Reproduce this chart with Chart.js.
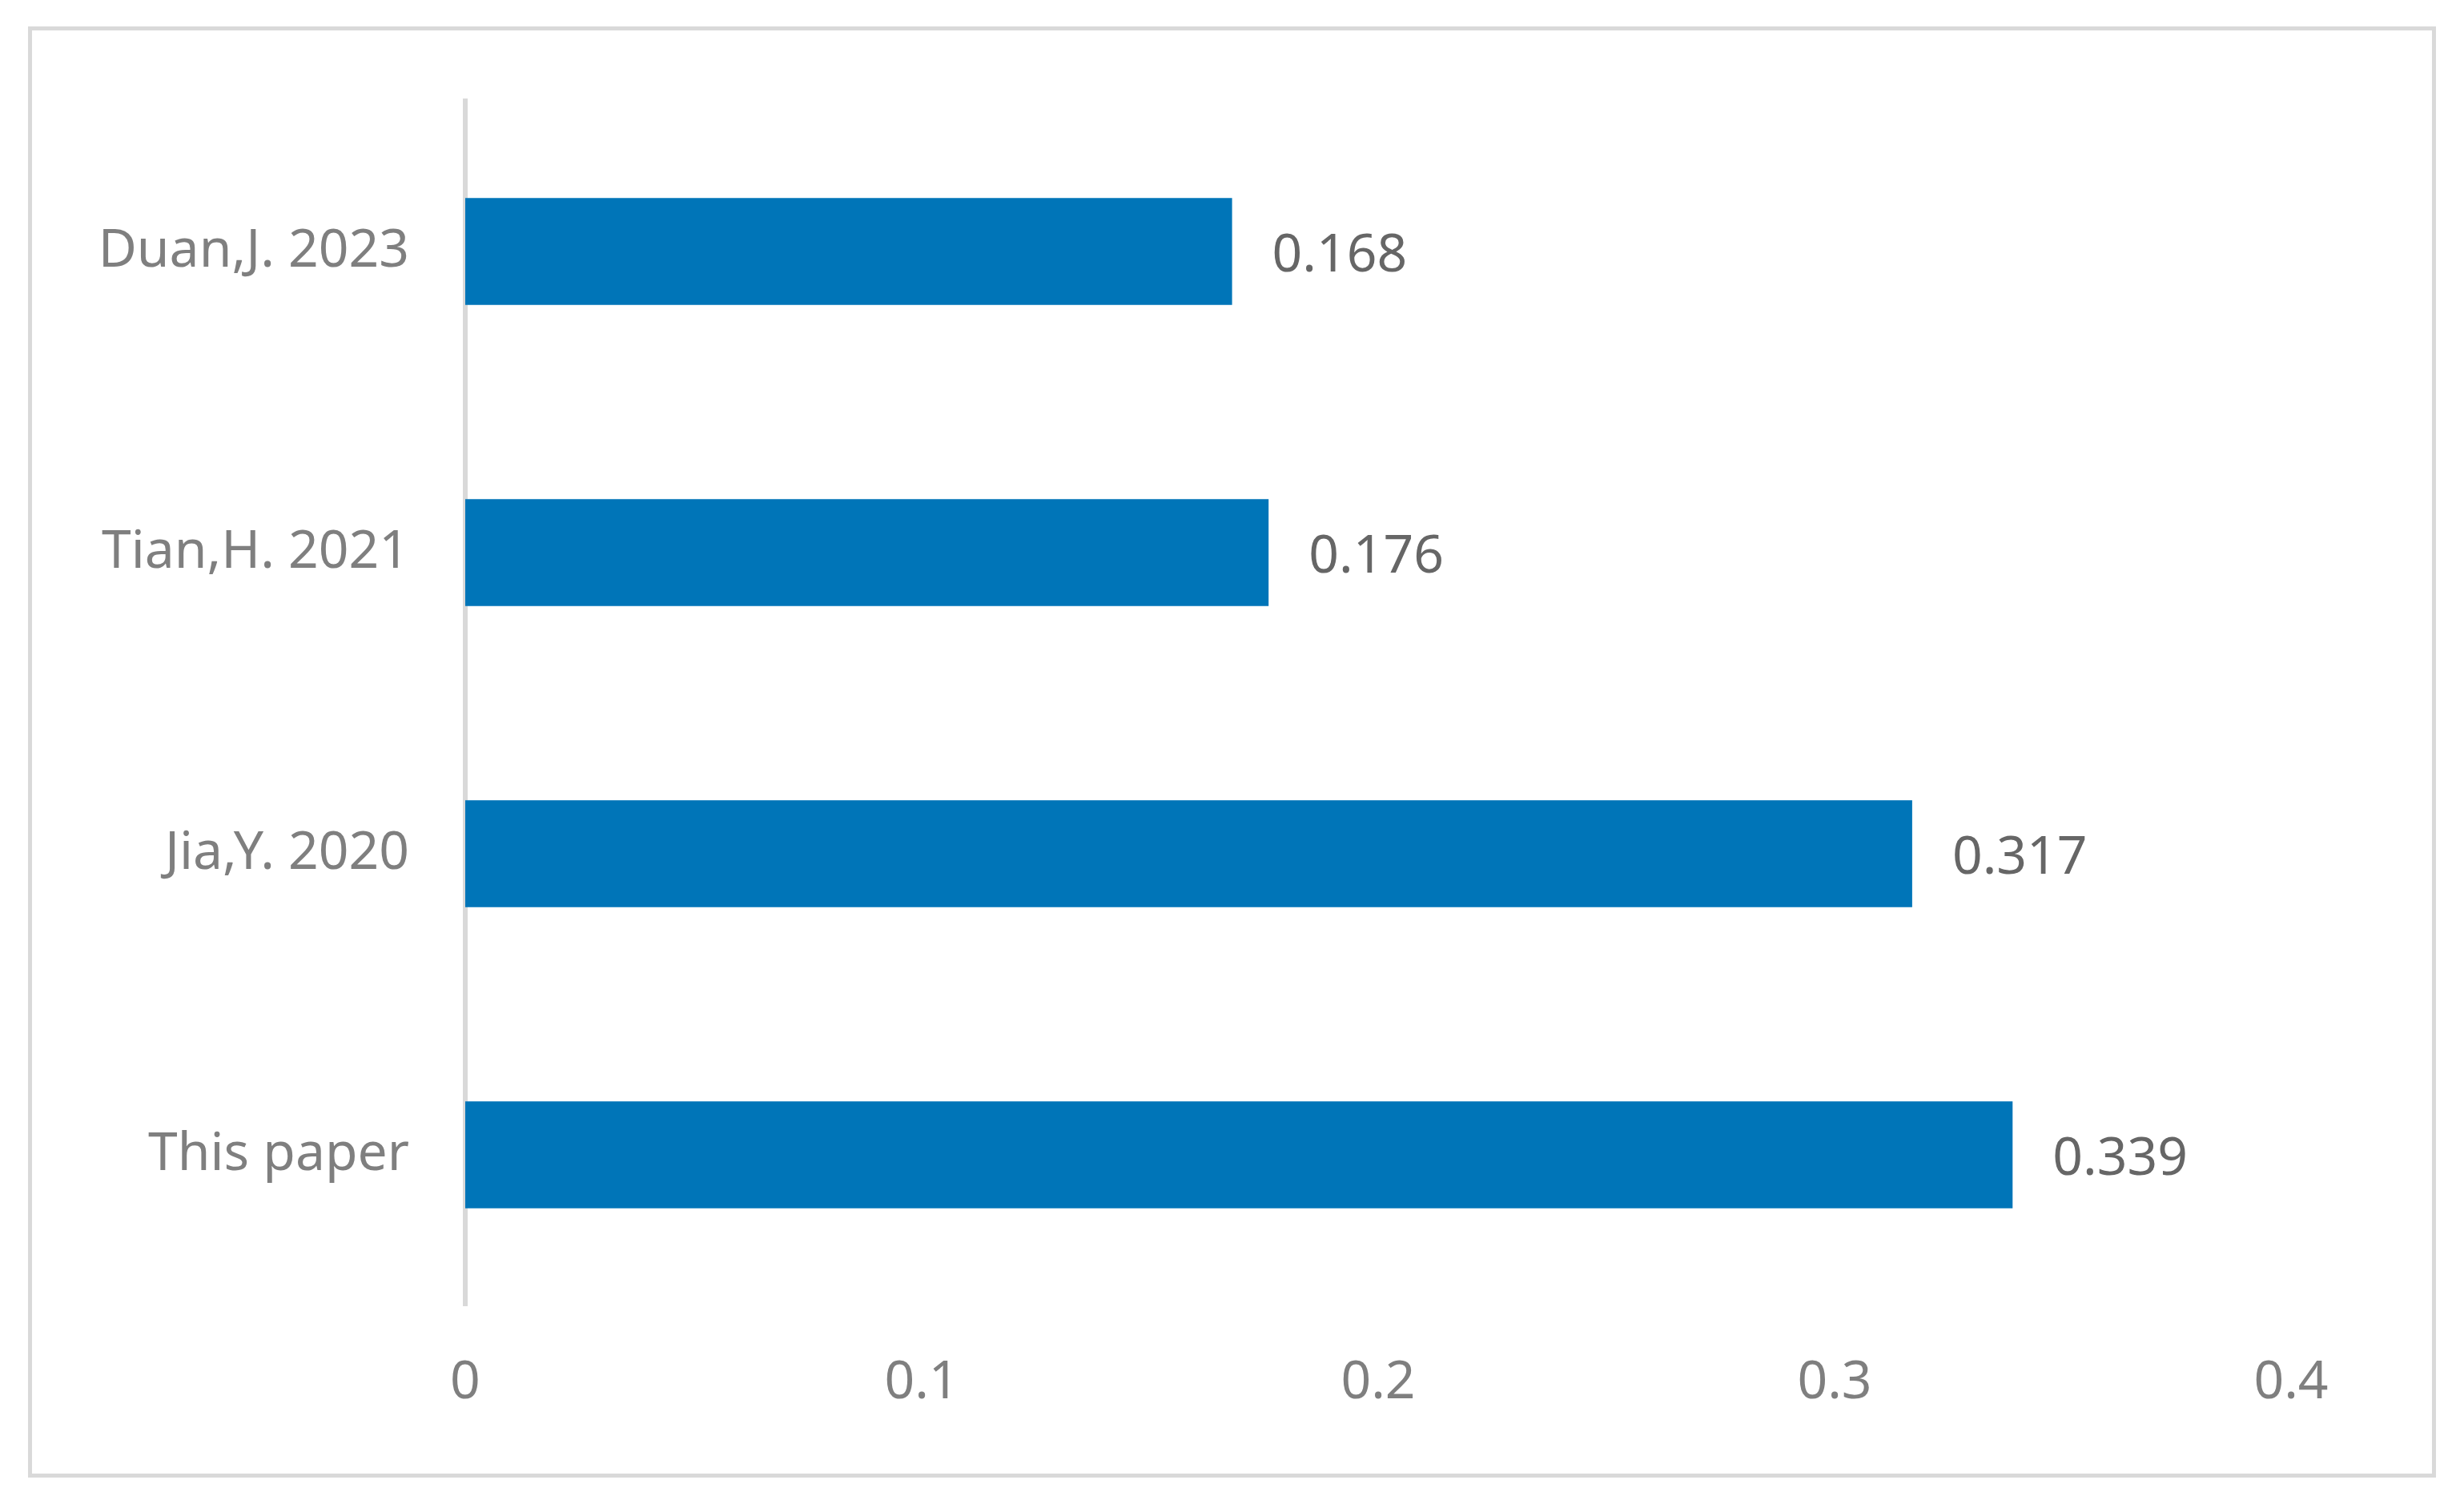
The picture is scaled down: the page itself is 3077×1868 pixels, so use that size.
<!DOCTYPE html>
<html>
<head>
<meta charset="utf-8">
<script src="https://cdn.jsdelivr.net/npm/chart.js@4/dist/chart.umd.min.js"></script>
<style>
  html, body { margin: 0; padding: 0; background: #fff; }
  #wrap { position: relative; width: 3077px; height: 1868px; }
  #frame {
    position: absolute; left: 35px; top: 33px; width: 2997px; height: 1802px;
    border: 5px solid #d9d9d9; pointer-events: none;
  }
  canvas { position: absolute; left: 0; top: 0; }
</style>
</head>
<body>
<div id="wrap">
  <canvas id="chart" width="3077" height="1868"></canvas>
  <div id="frame"></div>
</div>
<script>
'use strict';

// data (top to bottom)
const categories = ['Duan,J. 2023', 'Tian,H. 2021', 'Jia,Y. 2020', 'This paper'];
const values = [0.168, 0.176, 0.317, 0.339];
const xTicks = [0, 0.1, 0.2, 0.3, 0.4];

const FONT = '"Noto Sans", "Open Sans", sans-serif';

// value labels to the right of each bar
const barLabels = {
    id: 'barLabels',
    afterDatasetsDraw(chart) {
        const ctx = chart.ctx;
        const meta = chart.getDatasetMeta(0);
        ctx.save();
        ctx.font = '66px ' + FONT;
        ctx.fillStyle = '#666666';
        ctx.textAlign = 'left';
        ctx.textBaseline = 'middle';
        meta.data.forEach((bar, i) => {
            ctx.fillText(String(values[i]), bar.x + 50, bar.y + 6);
        });
        ctx.restore();
    }
};

const ctx = document.getElementById('chart').getContext('2d');
new Chart(ctx, {
    type: 'bar',
    data: {
        labels: categories,
        datasets: [{
            data: values,
            backgroundColor: '#0075B8',
            borderWidth: 0,
            barPercentage: 0.355,
            categoryPercentage: 1
        }]
    },
    options: {
        indexAxis: 'y',
        responsive: false,
        animation: false,
        devicePixelRatio: 1,
        layout: { padding: { top: 126, right: 216, left: 0, bottom: 0 } },
        plugins: {
            legend: { display: false },
            tooltip: { enabled: false }
        },
        scales: {
            x: {
                min: 0,
                max: 0.4,
                afterBuildTicks(scale) {
                    scale.ticks = xTicks.map(v => ({ value: v }));
                },
                afterFit(scale) { scale.height = 238; },
                grid: { display: false, drawTicks: false },
                border: { display: false },
                ticks: {
                    color: '#7f7f7f',
                    font: { family: FONT, size: 66 },
                    padding: 58,
                    callback: v => String(v)
                }
            },
            y: {
                afterFit(scale) { scale.width = 581; },
                grid: { display: false, drawTicks: false },
                border: { display: true, color: '#d9d9d9', width: 6 },
                ticks: {
                    color: '#7f7f7f',
                    font: { family: FONT, size: 66 },
                    padding: 70
                }
            }
        }
    },
    plugins: [barLabels]
});
</script>
</body>
</html>
